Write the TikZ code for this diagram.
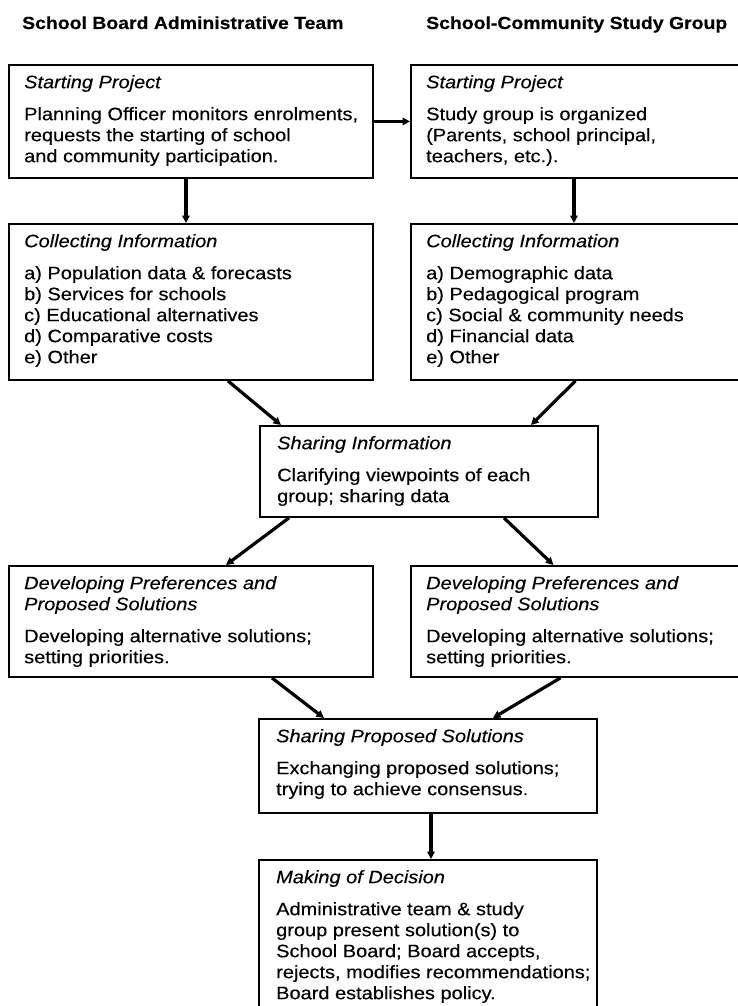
\documentclass[tikz,border=0pt]{standalone}
\usepackage{fontspec}
\setmainfont[FakeStretch=1.11, FakeBold=0.25]{Liberation Sans}
\usetikzlibrary{arrows.meta}
\begin{document}
\begin{tikzpicture}[x=1pt,y=-1pt,
  boxstyle/.style={draw, line width=1.9pt, inner sep=0pt, anchor=north west},
  txt/.style={anchor=north west, inner sep=0pt, align=left, font=\fontsize{18}{21}\selectfont},
  hdr/.style={anchor=base west, inner sep=0pt, font=\fontsize{17.5}{20}\selectfont\bfseries},
  conn/.style={line width=3.2pt, -{Triangle[length=7.5pt,width=7.5pt]}}]
\useasboundingbox[fill=white] (0,0) rectangle (738,1006);

\node[hdr] (h1) at (22,29) {School Board Administrative Team};
\node[hdr] (h2) at (426,29) {School-Community Study Group};

% boxes
\node[boxstyle, minimum width=364pt, minimum height=113pt] (a1) at (8,64) {};
\node[boxstyle, minimum width=335pt, minimum height=113pt] (b1) at (410,64) {};
\node[boxstyle, minimum width=364pt, minimum height=156pt] (a2) at (8,223) {};
\node[boxstyle, minimum width=335pt, minimum height=156pt] (b2) at (410,223) {};
\node[boxstyle, minimum width=338pt, minimum height=91pt] (s1) at (259,425) {};
\node[boxstyle, minimum width=364pt, minimum height=111pt] (a3) at (8,565) {};
\node[boxstyle, minimum width=335pt, minimum height=111pt] (b3) at (410,565) {};
\node[boxstyle, minimum width=338pt, minimum height=94pt] (s2) at (258,718) {};
\node[boxstyle, minimum width=338pt, minimum height=170pt] (d) at (258,859) {};

% texts
\node[txt] (a1t) at (24,73.3) {\strut{\itshape Starting Project}\\[11pt]
Planning Officer monitors enrolments,\\requests the starting of school\\and community participation.};
\node[txt] (b1t) at (426,73.3) {\strut{\itshape Starting Project}\\[11pt]
Study group is organized\\(Parents, school principal,\\teachers, etc.).};
\node[txt] (a2t) at (24,232.3) {\strut{\itshape Collecting Information}\\[11pt]
a) Population data \& forecasts\\b) Services for schools\\c) Educational alternatives\\d) Comparative costs\\e) Other};
\node[txt] (b2t) at (426,232.3) {\strut{\itshape Collecting Information}\\[11pt]
a) Demographic data\\b) Pedagogical program\\c) Social \& community needs\\d) Financial data\\e) Other};
\node[txt] (s1t) at (277,434.3) {\strut{\itshape Sharing Information}\\[11pt]
Clarifying viewpoints of each\\group; sharing data};
\node[txt] (a3t) at (24,574.3) {\strut{\itshape Developing Preferences and}\\{\itshape Proposed Solutions}\\[11pt]
Developing alternative solutions;\\setting priorities.};
\node[txt] (b3t) at (426,574.3) {\strut{\itshape Developing Preferences and}\\{\itshape Proposed Solutions}\\[11pt]
Developing alternative solutions;\\setting priorities.};
\node[txt] (s2t) at (276,727.3) {\strut{\itshape Sharing Proposed Solutions}\\[11pt]
Exchanging proposed solutions;\\trying to achieve consensus.};
\node[txt] (dt) at (276,868.3) {\strut{\itshape Making of Decision}\\[11pt]
Administrative team \& study\\group present solution(s) to\\School Board; Board accepts,\\rejects, modifies recommendations;\\Board establishes policy.};

% connectors
\draw[conn] (a1.east) -- (b1.west);
\draw[conn] ([xshift=-5pt]a1.south) -- ([xshift=-5pt]a2.north);
\draw[conn] ([xshift=-4.5pt]b1.south) -- ([xshift=-4.5pt]b2.north);
\draw[conn] ([xshift=37pt]a2.south) -- ([xshift=-148pt]s1.north);
\draw[conn] ([xshift=-3pt]b2.south) -- ([xshift=102pt]s1.north);
\draw[conn] ([xshift=-140pt]s1.south) -- ([xshift=35pt]a3.north);
\draw[conn] ([xshift=75pt]s1.south) -- ([xshift=-25pt]b3.north);
\draw[conn] ([xshift=81pt]a3.south) -- ([xshift=-104pt]s2.north);
\draw[conn] ([xshift=-18pt]b3.south) -- ([xshift=65pt]s2.north);
\draw[conn] ([xshift=3pt]s2.south) -- ([xshift=3pt]d.north);
\end{tikzpicture}
\end{document}
